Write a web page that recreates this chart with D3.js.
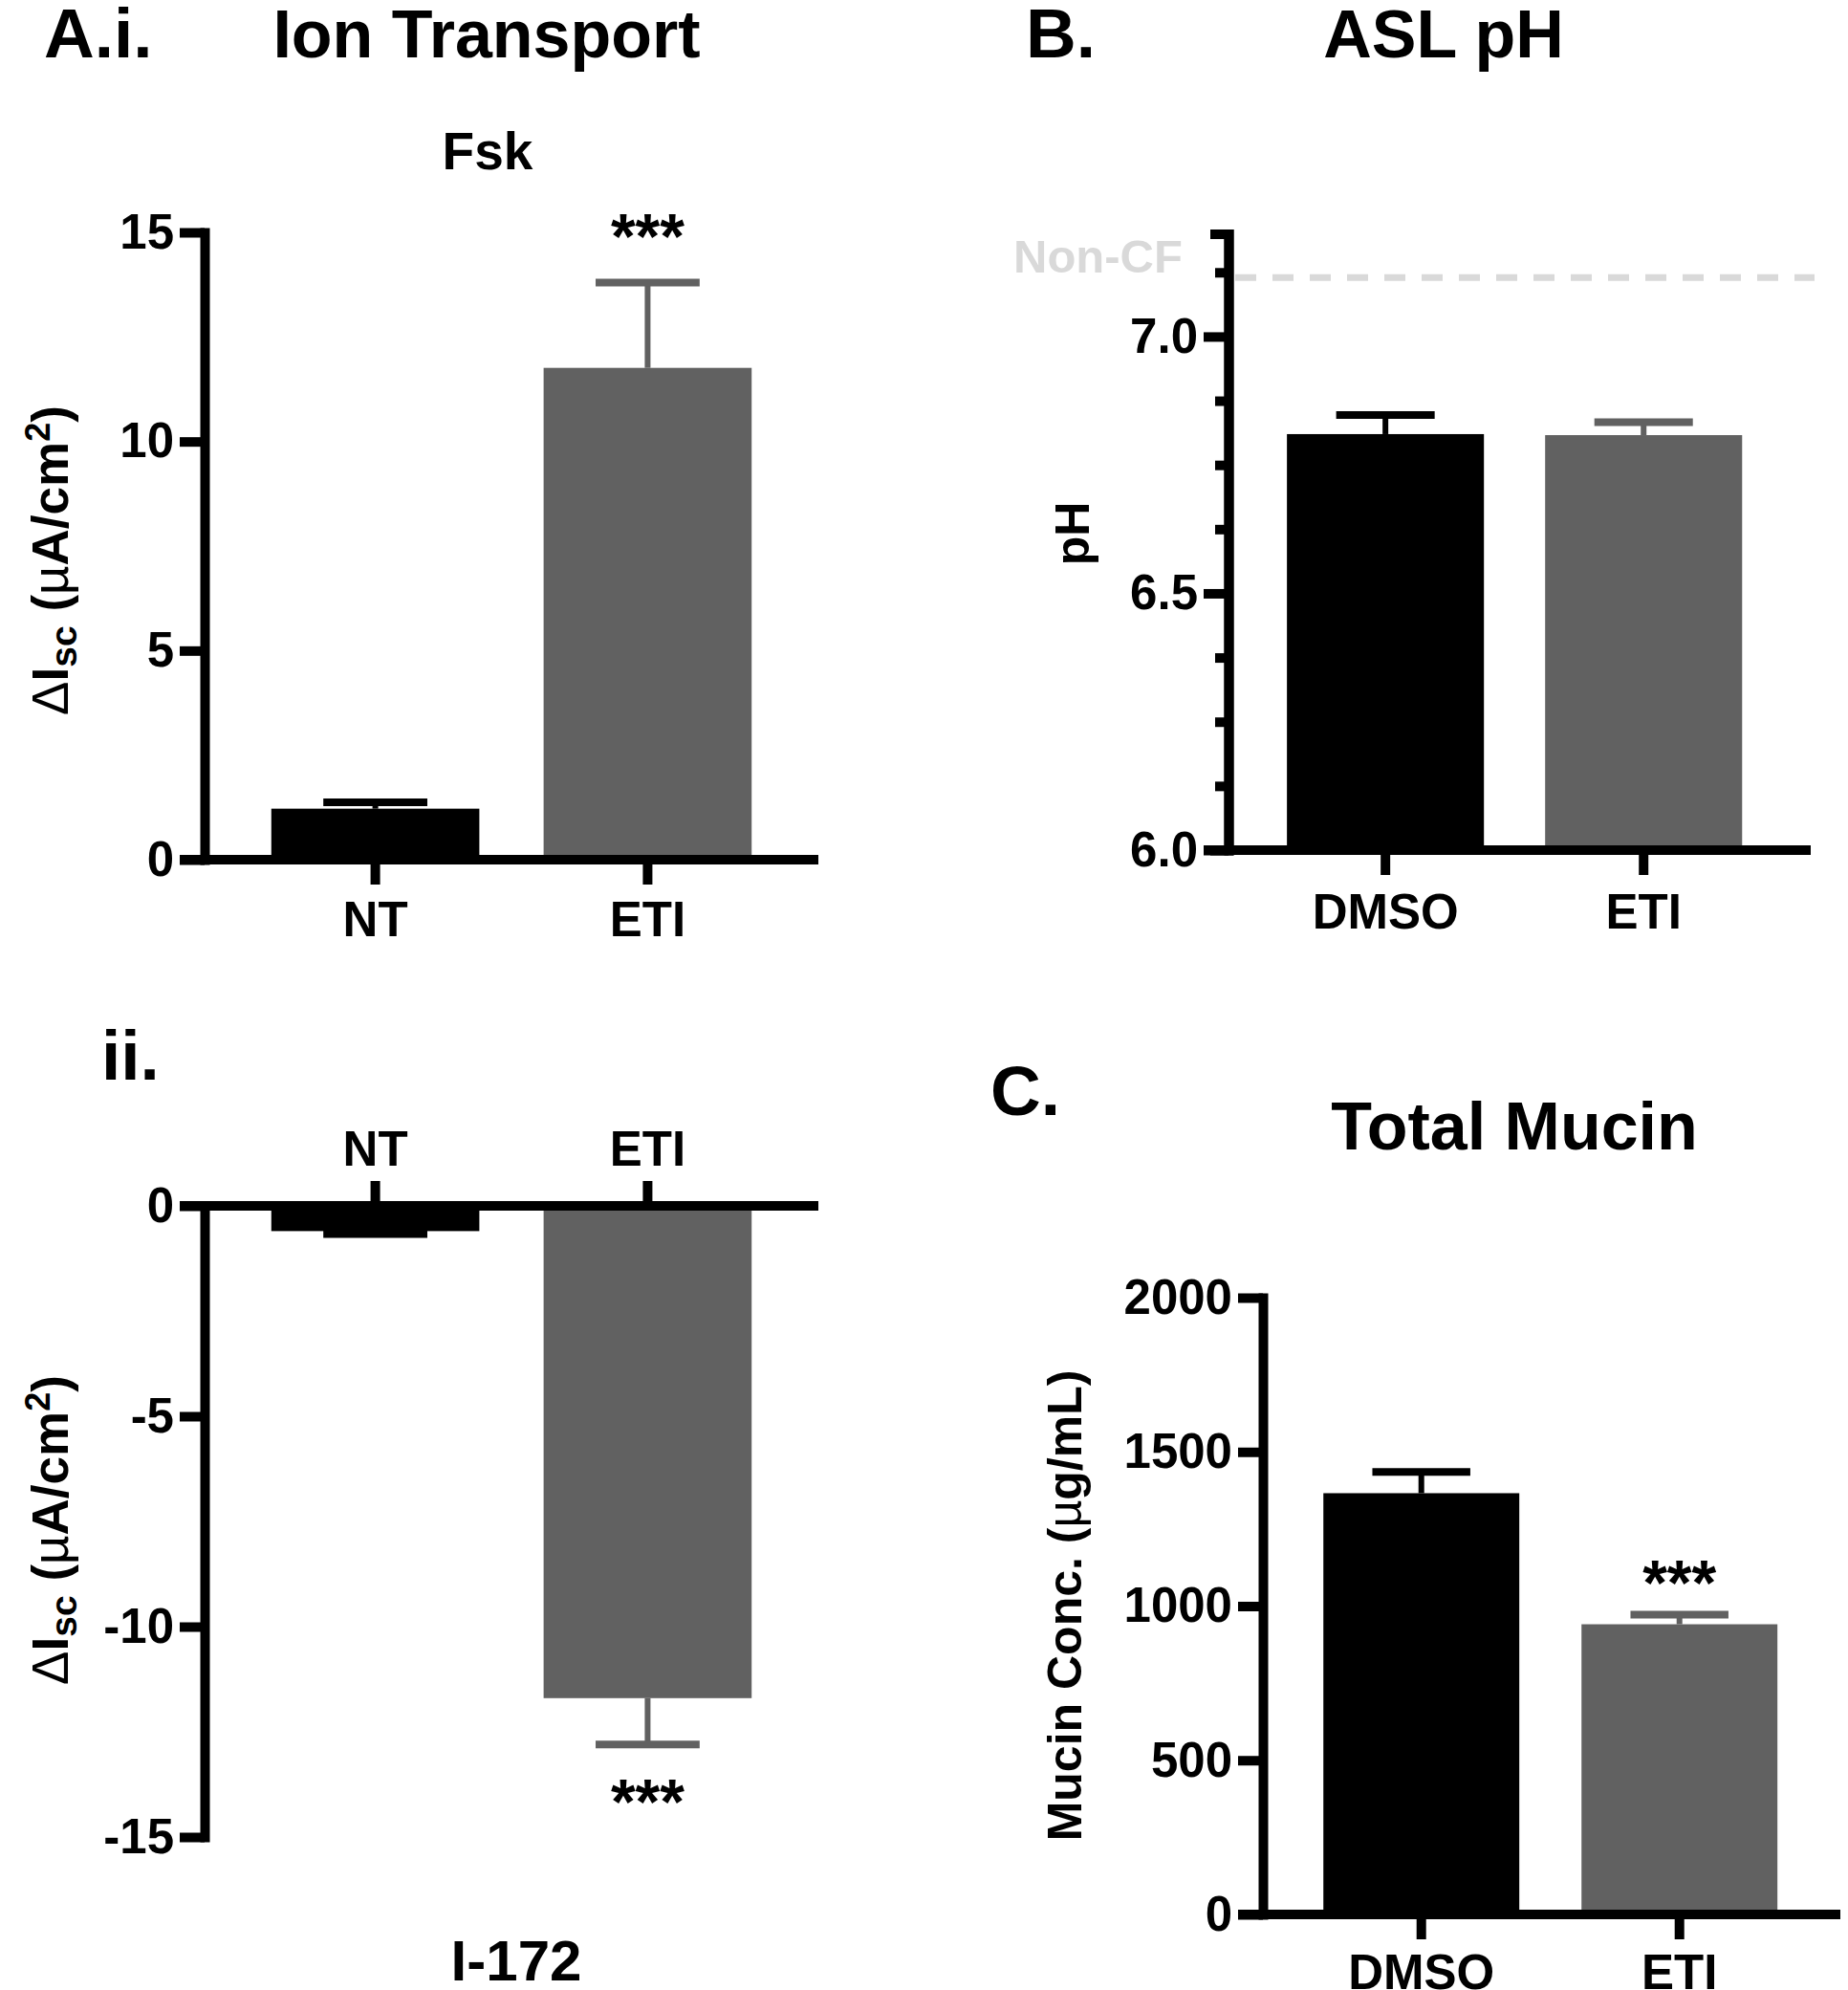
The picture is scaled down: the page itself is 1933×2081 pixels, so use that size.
<!DOCTYPE html>
<html>
<head>
<meta charset="utf-8">
<script src="https://cdn.jsdelivr.net/npm/d3@7"></script>
<style>
  body { margin: 0; background: #fff; }
  svg text { font-family: "Liberation Sans", Arial, sans-serif; font-weight: bold; }
</style>
</head>
<body>
<div class="chart"></div>
<script>
// data (mean, SEM)
const ionCats = ["NT", "ETI"];
const fskMean = [1.22, 11.76];
const fskSem = [0.15, 2.04];
const i172Mean = [-0.6, -11.7];
const i172Sem = [0.07, 1.1];

const phCats = ["DMSO", "ETI"];
const phMean = [6.81, 6.808];
const phSem = [0.037, 0.025];
const nonCF = 7.115;

const mucinCats = ["DMSO", "ETI"];
const mucinMean = [1366, 941];
const mucinSem = [69, 31];

// tick labels
const fskTicks = [0, 5, 10, 15];
const i172Ticks = [0, -5, -10, -15];
const phTicks = [6.0, 6.5, 7.0];
const phMinor = [6.125, 6.25, 6.375, 6.625, 6.75, 6.875, 7.125];
const mucinTicks = [0, 500, 1000, 1500, 2000];

const barColors = ["#000000", "#616161"];

const width = 1933, height = 2081;
const AXIS_W = 10, TICK = 26, FONT = 51;

const svg = d3.select(".chart").append("svg")
    .attr("width", width)
    .attr("height", height);

svg.append("rect").attr("width", width).attr("height", height).attr("fill", "#fff");

// plain hyphen for negatives, like the original
const intFmt = d => String(d);

// draw bars + one-sided error bars
function drawBars(x, y, cats, mean, sem, base) {
    const data = cats.map((c, i) => ({cat: c, mean: mean[i], sem: sem[i], color: barColors[i]}));
    const bw = x.bandwidth();

    svg.append("g").selectAll("rect")
        .data(data)
        .join("rect")
        .attr("x", d => x(d.cat))
        .attr("width", bw)
        .attr("y", d => Math.min(y(d.mean), y(base)))
        .attr("height", d => Math.abs(y(d.mean) - y(base)))
        .attr("fill", d => d.color);

    const err = svg.append("g").selectAll("g")
        .data(data)
        .join("g")
        .attr("stroke", d => d.color);

    const tip = d => d.mean + Math.sign(d.mean - base) * d.sem;

    err.append("line")
        .attr("x1", d => x(d.cat) + bw / 2)
        .attr("x2", d => x(d.cat) + bw / 2)
        .attr("y1", d => y(d.mean))
        .attr("y2", d => y(tip(d)))
        .attr("stroke-width", 6);

    err.append("line")
        .attr("x1", d => x(d.cat) + bw / 4)
        .attr("x2", d => x(d.cat) + bw * 3 / 4)
        .attr("y1", d => y(tip(d)))
        .attr("y2", d => y(tip(d)))
        .attr("stroke-width", 8);
}

function styleAxis(g) {
    g.attr("font-family", null).attr("font-size", FONT).attr("font-weight", "bold");
    g.select(".domain").attr("stroke-width", AXIS_W).attr("stroke-linecap", "square");
    g.selectAll(".tick line").attr("stroke-width", AXIS_W);
    g.selectAll(".tick text").attr("fill", "#000");
}

function drawYAxis(y, xPos, ticks, fmt) {
    const g = svg.append("g")
        .attr("transform", `translate(${xPos},0)`)
        .call(d3.axisLeft(y).tickValues(ticks).tickSize(TICK).tickSizeOuter(0).tickPadding(6).tickFormat(fmt));
    styleAxis(g);
    return g;
}

function drawXAxis(x, yPos, xEnd, top, pad) {
    const ax = top ? d3.axisTop(x) : d3.axisBottom(x);
    const g = svg.append("g")
        .attr("transform", `translate(0,${yPos})`)
        .call(ax.tickSize(TICK).tickSizeOuter(0).tickPadding(pad));
    styleAxis(g);
    // axis runs from left of y axis (0 tick) to its end
    g.select(".domain")
        .attr("stroke-linecap", "butt")
        .attr("d", `M${x.range()[0] - TICK},0H${xEnd}`);
    return g;
}

function title(txt, x, y, size, anchor) {
    return svg.append("text")
        .attr("x", x).attr("y", y)
        .attr("font-size", size)
        .attr("text-anchor", anchor || "middle")
        .text(txt);
}

// ---------- A.i  Fsk ----------
const xA = d3.scaleBand().domain(ionCats).range([214, 856]).paddingInner(0.236).paddingOuter(0.245);
const yFsk = d3.scaleLinear().domain([0, 15]).range([899, 243]);

drawBars(xA, yFsk, ionCats, fskMean, fskSem, 0);
drawYAxis(yFsk, 214, fskTicks, intFmt);
drawXAxis(xA, yFsk(0), 856, false, 18);

title("A.i.", 46, 60, 73, "start");
title("Ion Transport", 509, 60, 70);
title("Fsk", 510, 177, 55);
title("***", xA("ETI") + xA.bandwidth() / 2, 270, 66);

function isc(xPos, yPos) {
    const t = svg.append("text")
        .attr("transform", `translate(${xPos},${yPos}) rotate(-90)`)
        .attr("text-anchor", "middle")
        .attr("font-size", 53);
    t.append("tspan").attr("font-weight", "normal").text("\u0394");
    t.append("tspan").text("I");
    t.append("tspan").attr("font-size", 39).attr("dy", 9).text("sc");
    t.append("tspan").attr("dy", -9).text(" (");
    t.append("tspan").attr("font-weight", "normal").text("\u00b5");
    t.append("tspan").text("A/cm");
    t.append("tspan").attr("font-size", 36).attr("dy", -19).text("2");
    t.append("tspan").attr("dy", 19).text(")");
}
isc(71, 586);

// ---------- A.ii  I-172 ----------
const yI = d3.scaleLinear().domain([-15, 0]).range([1921, 1261]);

drawBars(xA, yI, ionCats, i172Mean, i172Sem, 0);
drawYAxis(yI, 214, i172Ticks, intFmt);
drawXAxis(xA, yI(0), 856, true, 16);

title("ii.", 106, 1129, 73, "start");
title("***", xA("ETI") + xA.bandwidth() / 2, 1907, 66);
title("I-172", 540, 2071, 60);
isc(71, 1600);

// ---------- B  ASL pH ----------
const xB = d3.scaleBand().domain(phCats).range([1285, 1894]).paddingInner(0.237).paddingOuter(0.246).align(0.46);
const yB = d3.scaleLinear().domain([6.0, 7.2]).range([889, 244.5]);

// non-CF reference line
svg.append("line")
    .attr("x1", 1292).attr("x2", 1898)
    .attr("y1", yB(nonCF)).attr("y2", yB(nonCF))
    .attr("stroke", "#d9d9d9")
    .attr("stroke-width", 7)
    .attr("stroke-dasharray", "22,17");
svg.append("text")
    .attr("x", 1060).attr("y", yB(nonCF) - 5)
    .attr("font-size", 49)
    .attr("fill", "#d9d9d9")
    .text("Non-CF");

drawBars(xB, yB, phCats, phMean, phSem, 6.0);
const minor = svg.append("g")
    .attr("transform", "translate(1285,0)")
    .call(d3.axisLeft(yB).tickValues(phMinor).tickSize(14).tickFormat(""));
styleAxis(minor);
drawYAxis(yB, 1285, phTicks, d3.format(".1f"));
drawXAxis(xB, yB(6.0), 1894, false, 20);

title("B.", 1073, 60, 73, "start");
title("ASL pH", 1510, 60, 70);
svg.append("text")
    .attr("transform", "translate(1139,558) rotate(-90)")
    .attr("text-anchor", "middle")
    .attr("font-size", 50)
    .text("pH");

// ---------- C  Total Mucin ----------
const xC = d3.scaleBand().domain(mucinCats).range([1321, 1925]).paddingInner(0.241).paddingOuter(0.239).align(0.49);
const yC = d3.scaleLinear().domain([0, 2000]).range([2002, 1357]);

drawBars(xC, yC, mucinCats, mucinMean, mucinSem, 0);
drawYAxis(yC, 1321, mucinTicks, intFmt);
drawXAxis(xC, yC(0), 1925, false, 16);

title("C.", 1036, 1166, 73, "start");
title("Total Mucin", 1584, 1202, 70);
title("***", xC("ETI") + xC.bandwidth() / 2, 1678, 66);

const mu = svg.append("text")
    .attr("transform", "translate(1131,1679) rotate(-90)")
    .attr("text-anchor", "middle")
    .attr("font-size", 50);
mu.append("tspan").text("Mucin Conc. (");
mu.append("tspan").attr("font-weight", "normal").text("\u00b5");
mu.append("tspan").text("g/mL)");
</script>
</body>
</html>
